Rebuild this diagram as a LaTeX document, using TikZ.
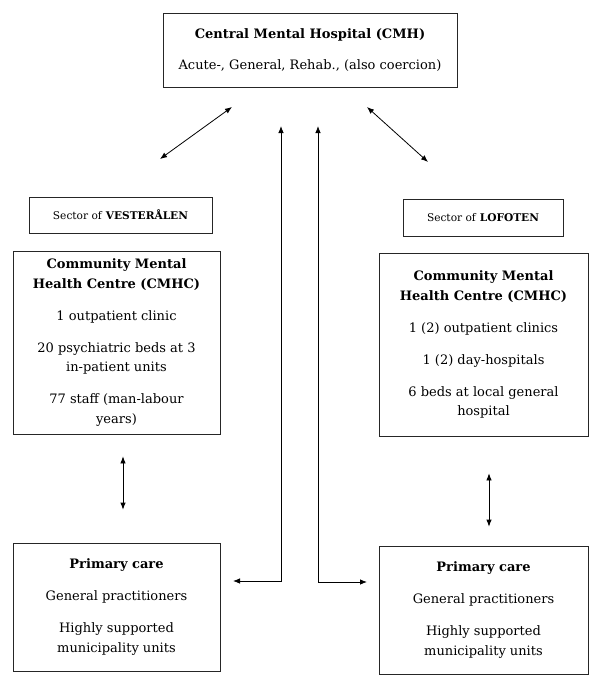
\documentclass[tikz,border=0pt]{standalone}
\usepackage{fontspec}
\setmainfont{DejaVu Serif}
\usetikzlibrary{arrows.meta}

\begin{document}
\begin{tikzpicture}[x=1pt, y=-1pt, >={Latex[length=7pt,width=5.5pt]},
  box/.style={draw=black!85, line width=0.8pt, align=center, inner sep=2pt,
    font=\fontsize{13}{19.5}\selectfont},
  sectorbox/.style={draw=black!85, line width=0.8pt, font=\fontsize{10.6}{12}\selectfont},
  link/.style={<->, line width=0.8pt}]
  \useasboundingbox (0,0) rectangle (600,685);
  % hospital
  \node[box, minimum width=294, minimum height=74] (cmh) at (310,50)
    {\textbf{Central Mental Hospital (CMH)}\\[11pt] Acute-, General, Rehab., (also coercion)};
  % sektorer
  \node[sectorbox, minimum width=183, minimum height=36] (secV) at (120.5,215)
    {Sector of \textbf{VESTERÅLEN}};
  \node[sectorbox, minimum width=160, minimum height=37] (secL) at (483,217.5)
    {Sector of \textbf{LOFOTEN}};
  % DPS
  \node[box, minimum width=207, minimum height=183] (cmhcV) at (116.5,342.5)
    {\textbf{Community Mental}\\ \textbf{Health Centre (CMHC)}\\[12.5pt]
     1 outpatient clinic\\[12.5pt] 20 psychiatric beds at 3\\ in-patient units\\[12.5pt]
     77 staff (man-labour\\ years)};
  \node[box, minimum width=209, minimum height=183] (cmhcL) at (483.5,344.5)
    {\textbf{Community Mental}\\ \textbf{Health Centre (CMHC)}\\[12.5pt]
     1 (2) outpatient clinics\\[12.5pt] 1 (2) day-hospitals\\[12.5pt]
     6 beds at local general\\ hospital};
  % primaerhelse
  \node[box, minimum width=207, minimum height=128] (pcV) at (116.5,607)
    {\textbf{Primary care}\\[12.5pt] General practitioners\\[12.5pt]
     Highly supported\\ municipality units};
  \node[box, minimum width=209, minimum height=128] (pcL) at (483.5,610)
    {\textbf{Primary care}\\[12.5pt] General practitioners\\[12.5pt]
     Highly supported\\ municipality units};
  % frie ender
  \coordinate (dV1) at (232,107);
  \coordinate (dV2) at (160,159);
  \coordinate (dL1) at (367,107);
  \coordinate (dL2) at (428,162);
  \coordinate (uV) at (281,126);
  \coordinate (bV) at (281,581);
  \coordinate (eV) at (233,581);
  \coordinate (uL) at (318,126);
  \coordinate (bL) at (318,582);
  \coordinate (eL) at (367,582);
  % piler
  \draw[link] (dV1) -- (dV2);
  \draw[link] (dL1) -- (dL2);
  \draw[link] (eV) -- (bV) -- (uV);
  \draw[link] (uL) -- (bL) -- (eL);
  \draw[link, shorten <=22pt, shorten >=33pt] ([xshift=6.5pt]cmhcV.south) -- ([xshift=6.5pt]pcV.north);
  \draw[link, shorten <=37pt, shorten >=19pt] ([xshift=5.5pt]cmhcL.south) -- ([xshift=5.5pt]pcL.north);
\end{tikzpicture}
\end{document}
